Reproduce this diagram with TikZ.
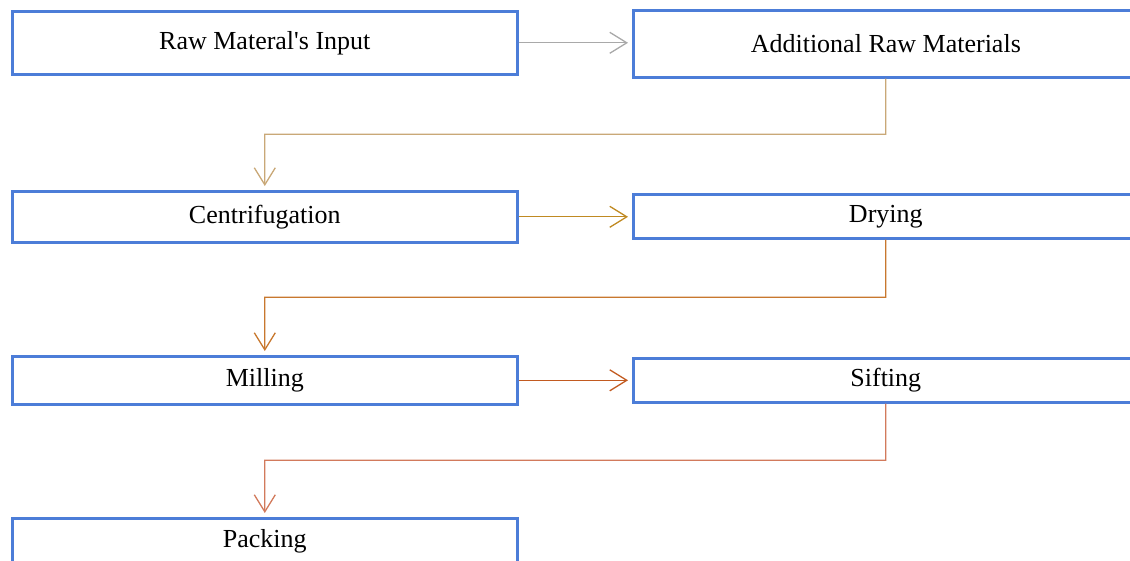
\documentclass[tikz,border=0pt]{standalone}
\usepackage{fontspec}
\setmainfont{Liberation Serif}
\usetikzlibrary{arrows.meta,calc}
\definecolor{boxblue}{HTML}{4C7DD8}
\definecolor{flowA}{HTML}{A9A9A9}
\definecolor{flowB}{HTML}{C9A877}
\definecolor{flowC}{HTML}{C08A22}
\definecolor{flowD}{HTML}{C8782E}
\definecolor{flowE}{HTML}{C25A20}
\definecolor{flowF}{HTML}{D27A5C}
\tikzset{
  stage/.style={draw=boxblue, line width=2.6pt, fill=white, minimum width=505pt,
    inner sep=0pt, font=\fontsize{26}{30}\selectfont, anchor=north west},
  flow/.style={line width=1.3pt, shorten >=4pt,
    -{Straight Barb[length=17pt,width=21pt,line width=1.3pt]}},
}
\begin{document}
\begin{tikzpicture}[x=1pt,y=-1pt]
  \useasboundingbox (0,0) rectangle (1130,560);
  % process stages, left and right columns
  \node[stage, minimum height=63pt] (raw)   at (11,10)  {Raw Materal\textquotesingle s Input};
  \node[stage, minimum height=67pt] (add)   at (632,9)  {Additional Raw Materials};
  \node[stage, minimum height=51pt] (cent)  at (11,190) {Centrifugation};
  \node[stage, minimum height=44pt] (dry)   at (632,193) {Drying};
  \node[stage, minimum height=48pt] (mill)  at (11,355) {Milling};
  \node[stage, minimum height=44pt] (sift)  at (632,357) {Sifting};
  \node[stage, minimum height=46pt] (pack)  at (11,517) {Packing};
  % horizontal links
  \draw[flow, flowA] (raw.east) -- (raw.east -| add.west);
  \draw[flow, flowC] (cent.east) -- (cent.east -| dry.west);
  \draw[flow, flowE] (mill.east) -- (mill.east -| sift.west);
  % elbow links back to the left column
  \draw[flow, flowB] (add.south) -- ($(add.south)!0.5!(add.south |- cent.north)$) -| (cent.north);
  \draw[flow, flowD] (dry.south) -- ($(dry.south)!0.5!(dry.south |- mill.north)$) -| (mill.north);
  \draw[flow, flowF] (sift.south) -- ($(sift.south)!0.5!(sift.south |- pack.north)$) -| (pack.north);
\end{tikzpicture}
\end{document}
